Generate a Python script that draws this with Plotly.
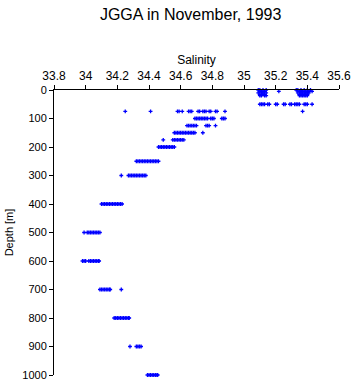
import plotly.graph_objects as go

# Salinity readings (PSU) grouped by depth (m)
depths = [0, 5, 10, 15, 20, 50, 75, 100, 125, 150, 175, 200, 250, 300, 400, 500, 600, 700, 800, 900, 1000]
salinity_by_depth = [
    [35.09, 35.10, 35.12, 35.14, 35.33, 35.34, 35.36, 35.38, 35.40, 35.42],
    [35.10, 35.11, 35.13, 35.22, 35.35, 35.36, 35.37, 35.39, 35.41, 35.43],
    [35.09, 35.11, 35.12, 35.14, 35.34, 35.36, 35.38, 35.39, 35.40, 35.41],
    [35.10, 35.12, 35.13, 35.35, 35.36, 35.37, 35.38, 35.40],
    [35.10, 35.11, 35.13, 35.14, 35.35, 35.36, 35.37, 35.38, 35.39, 35.40],
    [35.10, 35.11, 35.12, 35.13, 35.15, 35.16, 35.20, 35.21, 35.25, 35.26, 35.29, 35.30,
     35.32, 35.33, 35.34, 35.35, 35.38, 35.39, 35.40, 35.43],
    [34.25, 34.41, 35.37, 34.58, 34.59, 34.61, 34.65, 34.66, 34.67, 34.71, 34.72,
     34.74, 34.75, 34.76, 34.78, 34.79, 34.82, 34.83, 34.88],
    [34.69, 34.70, 34.71, 34.72, 34.73, 34.74, 34.75, 34.76, 34.77, 34.79, 34.80, 34.81,
     34.86, 34.87, 34.88],
    [34.64, 34.65, 34.66, 34.67, 34.68, 34.69, 34.70, 34.76, 34.77, 34.78, 34.82],
    [34.56, 34.57, 34.58, 34.59, 34.60, 34.61, 34.62, 34.63, 34.64, 34.65, 34.66, 34.67,
     34.68, 34.69, 34.74],
    [34.49, 34.55, 34.56, 34.57, 34.58, 34.59, 34.60, 34.61, 34.62],
    [34.46, 34.47, 34.48, 34.49, 34.50, 34.51, 34.52, 34.53, 34.54, 34.55, 34.56],
    [34.32, 34.33, 34.34, 34.35, 34.36, 34.37, 34.38, 34.39, 34.40, 34.41, 34.42,
     34.43, 34.44, 34.45, 34.46],
    [34.225, 34.27, 34.28, 34.29, 34.30, 34.31, 34.32, 34.33, 34.34, 34.35, 34.36,
     34.37, 34.38],
    [34.10, 34.11, 34.12, 34.13, 34.14, 34.15, 34.16, 34.17, 34.18, 34.19, 34.20,
     34.21, 34.22, 34.23],
    [33.99, 34.01, 34.02, 34.03, 34.04, 34.05, 34.06, 34.07, 34.08, 34.09],
    [33.98, 33.99, 34.00, 34.02, 34.03, 34.04, 34.05, 34.06, 34.07, 34.08, 34.085],
    [34.09, 34.10, 34.11, 34.12, 34.13, 34.14, 34.15, 34.155, 34.225],
    [34.18, 34.19, 34.20, 34.21, 34.22, 34.23, 34.24, 34.25, 34.26, 34.27, 34.275],
    [34.28, 34.32, 34.33, 34.34, 34.35],
    [34.39, 34.40, 34.41, 34.42, 34.43, 34.44, 34.45, 34.455],
]

x_ticks = [33.8, 34, 34.2, 34.4, 34.6, 34.8, 35, 35.2, 35.4, 35.6]
x_tick_labels = ["33.8", "34", "34.2", "34.4", "34.6", "34.8", "35", "35.2", "35.4", "35.6"]
y_ticks = [0, 100, 200, 300, 400, 500, 600, 700, 800, 900, 1000]

xs, ys = [], []
for d, svals in zip(depths, salinity_by_depth):
    for s in svals:
        xs.append(s)
        ys.append(d)

fig = go.Figure(go.Scatter(
    x=xs, y=ys, mode="markers",
    marker=dict(symbol="cross", size=3.2, color="#0000FF", line=dict(width=0)),
    cliponaxis=False, showlegend=False,
))

font_family = "Liberation Sans, Arial, sans-serif"
fig.update_layout(
    width=353, height=384,
    margin=dict(l=54, r=14, t=90, b=9, autoexpand=False),
    paper_bgcolor="white", plot_bgcolor="white",
    font=dict(family=font_family, color="black", size=11),
    title=dict(text="JGGA in November, 1993", x=0.54, xanchor="center",
               y=0.962, yanchor="middle", font=dict(size=16, color="black")),
    xaxis=dict(
        side="top", range=[33.8, 35.6], tickvals=x_ticks, ticktext=x_tick_labels,
        showgrid=False, zeroline=False, showline=True, linecolor="black", linewidth=1,
        ticks="outside", ticklen=4, tickcolor="black", automargin=False,
        title=dict(text="Salinity", standoff=2, font=dict(size=12)),
        tickfont=dict(size=12),
    ),
    yaxis=dict(
        range=[1000, 0], tickvals=y_ticks, automargin=False,
        showgrid=False, zeroline=False, showline=True, linecolor="black", linewidth=1,
        ticks="outside", ticklen=4, tickcolor="black",
        title=dict(text="Depth [m]", standoff=6, font=dict(size=11)),
        tickfont=dict(size=11),
    ),
)

fig.write_html("out.html")
